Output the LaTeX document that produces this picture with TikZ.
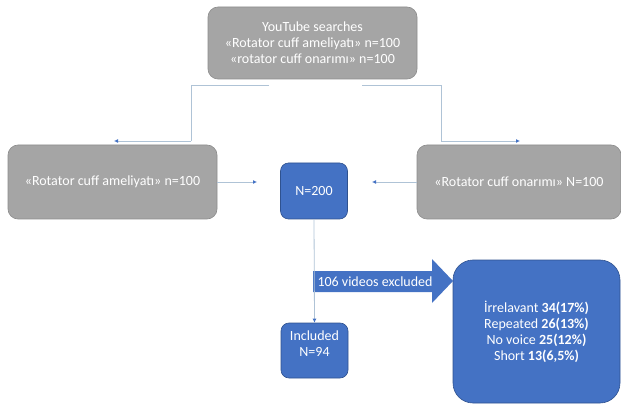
\documentclass[tikz,border=0pt]{standalone}
\usepackage{fontspec}
\setmainfont{Carlito}
\usepackage{tikz}
\usetikzlibrary{calc}
\usetikzlibrary{arrows.meta}

\definecolor{boxgray}{HTML}{A5A5A5}
\definecolor{linegray}{HTML}{8C8C8C}
\definecolor{boxblue}{HTML}{4472C4}
\definecolor{lineblue}{HTML}{2F528F}
\definecolor{linkcol}{HTML}{AFC3D6}

\begin{document}
\begin{tikzpicture}[x=1pt,y=-1pt,
  every node/.style={font=\fontsize{14}{16}\selectfont, text=white, align=center},
  graybox/.style={draw=linegray, fill=boxgray, rounded corners=10pt, line width=0.6pt, inner sep=0pt},
  bluebox/.style={draw=lineblue, fill=boxblue, rounded corners=8pt, line width=0.6pt, inner sep=0pt},
  link/.style={draw=linkcol, line width=0.8pt},
  tip/.style={-{Latex[length=4pt,width=4pt,fill=boxblue,color=boxblue]}}]
\useasboundingbox (0,0) rectangle (621,406);

\node[name=search, graybox, minimum width=209pt, minimum height=72pt] at (312.5,43)
  {YouTube searches\\«Rotator cuff ameliyatı» n=100\\«rotator cuff onarımı» n=100};
\node[name=ameliyat, graybox, minimum width=209pt, minimum height=74pt] at (112.5,182)
  {«Rotator cuff ameliyatı» n=100};
\node[name=onarim, graybox, minimum width=204pt, minimum height=74pt] at (519,182)
  {«Rotator cuff onarımı» N=100};
\node[name=total, bluebox, minimum width=67pt, minimum height=56pt] at (314,191) {N=200};
\node[name=included, bluebox, minimum width=67pt, minimum height=55pt] at (314.5,350.5)
  {Included\\N=94\\[-2pt]};
\node[name=reasons, bluebox, rounded corners=20pt, minimum width=167pt, minimum height=143pt] at (536.5,331.5)
  {İrrelavant \textbf{34(17\%)}\\Repeated \textbf{26(13\%)}\\No voice \textbf{25(12\%)}\\Short \textbf{13(6,5\%)}};

% excluded arrow
\fill[boxblue] (313,271) -- (432,271) -- (432,259) -- (453,281) -- (432,303) -- (432,292) -- (313,292) -- cycle;
\node[name=excluded] at (375,281.5) {106 videos excluded};

\coordinate (split_left) at (269,85);
\coordinate (split_right) at (362,85);
\coordinate (left_bend) at (191,141);
\coordinate (right_bend) at (441,141);
\coordinate (left_end) at (114,141);
\coordinate (right_end) at (520,141);
\coordinate (total_left) at (257,182);
\coordinate (total_right) at (372,182);

\draw[link] (split_left) -| (left_bend);
\draw[link] (split_right) -| (right_bend);
\draw[link, tip] (left_bend) -- (left_end);
\draw[link, tip] (right_bend) -- (right_end);
\draw[link, tip] (ameliyat.east) -- (total_left);
\draw[link, tip] (onarim.west) -- (total_right);
\draw[link, tip] (total.south) -- (included.north);

\end{tikzpicture}
\end{document}
